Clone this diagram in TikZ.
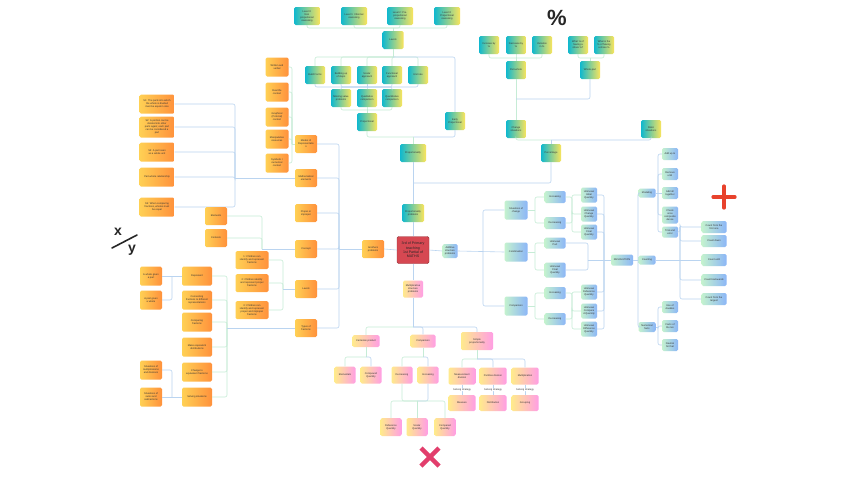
\documentclass[tikz,border=0pt]{standalone}
\usepackage{fontspec}
\setmainfont{Liberation Sans}
\definecolor{oL}{RGB}{255,208,84}
\definecolor{oR}{RGB}{255,145,60}
\definecolor{tL}{RGB}{16,184,206}
\definecolor{tR}{RGB}{250,228,92}
\definecolor{gL}{RGB}{196,242,206}
\definecolor{gR}{RGB}{140,182,247}
\definecolor{pL}{RGB}{255,234,140}
\definecolor{pR}{RGB}{255,158,228}
\definecolor{conc}{RGB}{186,212,240}
\definecolor{cong}{RGB}{198,236,214}
\definecolor{redbox}{RGB}{214,72,82}
\definecolor{xpink}{RGB}{226,62,108}
\definecolor{plusred}{RGB}{232,66,44}
\tikzset{
  bx/.style={rounded corners=1.5pt, align=center, inner sep=0.4pt, font=\fontsize{2.5}{3}\selectfont, text=black!80},
  ob/.style={bx, left color=oL, right color=oR, minimum width=22pt, minimum height=18pt},
  tb/.style={bx, left color=tL, right color=tR, minimum width=20pt, minimum height=18pt},
  gb/.style={bx, left color=gL, right color=gR, minimum width=21pt, minimum height=12pt},
  pb/.style={bx, left color=pL, right color=pR, minimum width=21pt, minimum height=17pt},
  con/.style={draw=conc, line width=0.6pt, rounded corners=2pt},
  cong/.style={draw=cong, line width=0.6pt, rounded corners=2pt},
}
\begin{document}
\begin{tikzpicture}[x=1pt,y=-1pt]
\useasboundingbox[fill=white] (0,0) rectangle (848,477);

% ---------- top: levels ----------
\node[tb, minimum width=26pt] (L0) at (307,16) {Level 0:\\Non\\proportional\\reasoning};
\node[tb, minimum width=26pt] (L1) at (354,16) {Level 1: Informal\\reasoning};
\node[tb, minimum width=26pt] (L2) at (400,16) {Level 2: Pre-\\proportional\\reasoning};
\node[tb, minimum width=26pt] (L3) at (447,16) {Level 3:\\Proportional\\reasoning};
\node[tb, minimum width=21pt] (LEV) at (393,40) {Levels};
\coordinate (jlev) at (393,28);
\foreach \n in {L0,L1,L2,L3} \draw[cong] (\n.south) |- (jlev);
\draw[cong] (jlev) -- (LEV.north);

\node[tb] (BF) at (315,75) {Build Forms};
\node[tb] (BS) at (341,75) {Building up\\of steps};
\node[tb] (SA) at (367,75) {Scalar\\approach};
\node[tb] (FA) at (392,75) {Functional\\approach};
\node[tb] (UR) at (418,75) {Unit rate};
\node[tb] (MV) at (341,98) {Missing value\\problems};
\node[tb] (QL) at (367,98) {Qualitative\\comparison};
\node[tb] (QN) at (392,98) {Quantitative\\comparison};
\node[tb] (PRO) at (367,122) {Proportional};
\node[tb] (EP) at (455,121) {Early\\Proportional};
\node[tb, minimum width=26pt] (PTY) at (413,153) {Proportionality};
\node[tb, minimum width=22pt] (PP) at (413,213) {Proportionality\\problems};

\coordinate (jr1) at (393,57);
\draw[cong] (LEV.south) -- (jr1);
\foreach \n in {BF,BS,SA,FA,UR} \draw[cong] (jr1) -| (\n.north);
\draw[con] (jr1) -| (EP.north);
\coordinate (jr2) at (367,87);
\foreach \n in {BF,BS,SA,FA,UR} \draw[con] (\n.south) |- (jr2);
\foreach \n in {MV,QL,QN} \draw[con] (jr2) -| (\n.north);
\coordinate (jp) at (367,110);
\foreach \n in {MV,QL,QN} \draw[cong] (\n.south) |- (jp);
\draw[cong] (jp) -- (PRO.north);
\coordinate (jpp) at (413,137);
\draw[cong] (PRO.south) |- (jpp);
\draw[con] (EP.south) |- (jpp);
\draw[cong] (jpp) -- (PTY.north);
\coordinate (jpc) at (413,183);
\draw[con] (PTY.south) -- (PP.north);

% ---------- percentage ----------
\node[font=\bfseries\fontsize{22}{22}\selectfont, text=black!85] (PCTS) at (557,18) {\%};
\node[tb] (I1) at (489,45) {Increase by\\\%};
\node[tb] (I2) at (516,45) {Decrease by\\\%};
\node[tb] (I3) at (542,45) {Variation\\in \%};
\node[tb] (W1) at (578,45) {What \% of\\having a\\share \%?};
\node[tb] (W2) at (604,45) {What is the\\\% of having\\a share \%};
\node[tb] (PW) at (516,70) {Part-whole};
\node[tb] (WP) at (590,70) {Whole-part};
\node[tb] (CS) at (516,129) {Change\\situations};
\node[tb] (SS) at (651,129) {Static\\situations};
\node[tb] (PCT) at (551,153) {Percentage};
\coordinate (jpt) at (516,58);
\foreach \n in {I1,I2,I3} \draw[cong] (\n.south) |- (jpt);
\draw[cong] (jpt) -- (PW.north);
\coordinate (jwt) at (590,58);
\foreach \n in {W1,W2} \draw[cong] (\n.south) |- (jwt);
\draw[cong] (jwt) -- (WP.north);
\coordinate (jpw) at (516,99);
\draw[cong] (PW.south) -- (CS.north);
\draw[con] (jpw) -| (WP.south);
\coordinate (jcs) at (551,140);
\draw[cong] (CS.south) |- (jcs);
\draw[con] (jcs) -| (SS.south);
\draw[con] (jcs) -- (PCT.north);
\draw[con] (jpc) -| (PCT.south);

% ---------- center ----------
\node[bx, fill=redbox, draw=redbox!70!black, line width=0.4pt, minimum width=32pt, minimum height=27pt, font=\fontsize{3.6}{4.3}\selectfont, text=black!85] (RED) at (413,250) {3rd of Primary\\teaching\\1st Partial of\\MATHS};
\draw[con] (PP.south) -- (RED.north);
\node[ob] (AP) at (373,249) {Anothers\\problems};
\draw[con] (AP.east) -- (RED.west);
\node[gb, minimum width=15pt, minimum height=14pt] (ASP) at (450,251) {Additive\\structure\\problems};
\draw[con] (RED.east) -- (ASP.west);
\node[pb, minimum width=20pt] (MSP) at (413,289) {Multiplicative\\structure\\problems};
\draw[con] (RED.south) -- (MSP.north);

% ---------- left ----------
\node[ob] (MR) at (306,144) {Modes of\\Representatio\\n};
\node[ob] (ME) at (306,178) {Mathematical\\elements};
\node[ob] (PI) at (306,213) {Proper or\\improper};
\node[ob] (CO) at (306,249) {Concept};
\node[ob] (LV) at (306,289) {Levels};
\node[ob] (TF) at (306,328) {Types of\\fractions};
\coordinate (jb) at (339,249);
\foreach \n in {MR,ME,PI,CO,LV,TF} \draw[con] (\n.east) -| (jb);
\draw[con] (jb) -- (AP.west);

\node[ob, minimum width=23pt, minimum height=19pt] (WV) at (277,67) {Written and\\verbal};
\node[ob, minimum width=23pt, minimum height=19pt] (RL) at (277,92) {Real life\\context};
\node[ob, minimum width=23pt, minimum height=19pt] (GP) at (277,117) {Graphical\\(Pictorial)\\context};
\node[ob, minimum width=23pt, minimum height=19pt] (MRS) at (277,139) {Manipulative\\resources};
\node[ob, minimum width=23pt, minimum height=19pt] (SN) at (277,163) {Symbolic /\\numerical\\context};
\coordinate (jm) at (292,144);
\foreach \n in {WV,RL,GP,MRS,SN} \draw[cong] (\n.east) -| (jm);
\draw[cong] (jm) -- (MR.west);

\node[ob, minimum width=35pt, minimum height=19pt] (S1) at (157,104) {S1: The parts into which\\the whole is divided\\must be equal in size};
\node[ob, minimum width=35pt, minimum height=21pt] (S2) at (157,127) {S2: A portion can be\\divided into other\\parts again; each part\\can be considered a\\part};
\node[ob, minimum width=35pt, minimum height=19pt] (S3) at (157,152) {S3: A part seen\\as a whole unit};
\node[ob, minimum width=35pt, minimum height=19pt] (S4) at (157,177) {Part-whole relationship};
\node[ob, minimum width=35pt, minimum height=19pt] (S5) at (157,207) {S5: When comparing\\fractions, wholes must\\be equal};
\coordinate (je) at (235,178);
\foreach \n in {S1,S2,S3,S4,S5} \draw[con] (\n.east) -| (je);
\draw[con] (je) -- (ME.west);

\node[ob] (EL) at (216,216) {Elements};
\node[ob] (CT) at (216,238) {Contexts};
\coordinate (jc) at (262,249);
\foreach \n in {EL,CT} \draw[cong] (\n.east) -| (jc);
\draw[con] (jc) -- (CO.west);

\node[ob, minimum width=33pt] (C1) at (252,260) {1: Children can\\identify and represent\\fractions};
\node[ob, minimum width=33pt] (C2) at (252,283) {2: Children identify\\and represent proper\\fractions};
\node[ob, minimum width=33pt] (C3) at (252,310) {3: Children can\\identify and represent\\proper and improper\\fractions};
\coordinate (jl) at (283,289);
\foreach \n in {C1,C2,C3} \draw[cong] (\n.east) -| (jl);
\draw[con] (jl) -- (LV.west);

\node[ob, minimum width=30pt, minimum height=19pt] (RP) at (197,276) {Represent};
\node[ob, minimum width=30pt, minimum height=19pt] (CF) at (197,300) {Connecting\\fractions to different\\representations};
\node[ob, minimum width=30pt, minimum height=19pt] (CM) at (197,322) {Comparing\\fractions};
\node[ob, minimum width=30pt, minimum height=19pt] (MED) at (197,347) {Make equivalent\\distributions};
\node[ob, minimum width=30pt, minimum height=19pt] (CEF) at (197,372) {Change to\\equivalent fractions};
\node[ob, minimum width=30pt, minimum height=19pt] (SSI) at (197,397) {Solving situations};
\coordinate (jt) at (227,328);
\foreach \n in {RP,CF,CM,MED,CEF,SSI} \draw[cong] (\n.east) -| (jt);
\draw[con] (jt) -- (TF.west);

\node[ob, minimum height=19pt] (AW) at (151,276) {A whole given\\a part};
\node[ob, minimum height=19pt] (APW) at (151,300) {A part given\\a whole};
\coordinate (jr) at (172,276);
\draw[con] (AW.east) -- (RP.west);
\draw[con] (APW.east) -| (jr);
\node[ob, minimum height=19pt] (SMD) at (151,370) {Situations of\\multiplications\\and divisions};
\node[ob, minimum height=19pt] (SSS) at (151,397) {Situations of\\sums and\\subtractions};
\coordinate (js) at (172,397);
\draw[con] (SSS.east) -- (SSI.west);
\draw[con] (SMD.east) -| (js);

% x/y symbol
\node[font=\bfseries\fontsize{14}{14}\selectfont, text=black!85] (XS) at (118,232) {x};
\node[font=\bfseries\fontsize{14}{14}\selectfont, text=black!85] (YS) at (132,250) {y};
\draw[black!85, line width=1.6pt, line cap=round] (112,248) -- (137,235);

% ---------- additive structure ----------
\node[gb, minimum width=23pt, minimum height=19pt] (SC) at (516,210) {Situations of\\change};
\node[gb, minimum width=23pt, minimum height=19pt] (CB) at (516,252) {Combination};
\node[gb, minimum width=23pt, minimum height=19pt] (CP) at (516,306) {Comparison};
\coordinate (ja) at (483,251);
\draw[con] (ASP.east) -- (CB.west);
\draw[con] (SC.west) -| (ja);
\draw[con] (CP.west) -| (ja);

\node[gb] (IN1) at (555,197) {Increasing};
\node[gb] (DE1) at (555,223) {Decreasing};
\node[gb, minimum height=11pt] (UP) at (555,243) {Unknown\\Part};
\node[gb, minimum height=15pt] (UF1) at (555,270) {Unknown\\Final\\Quantity};
\node[gb] (IN2) at (555,293) {Increasing};
\node[gb] (DE2) at (555,319) {Decreasing};
\coordinate (jsc) at (535,210);
\draw[cong] (SC.east) -- (jsc);
\draw[cong] (IN1.west) -| (jsc);
\draw[cong] (DE1.west) -| (jsc);
\coordinate (jcb) at (535,252);
\draw[cong] (CB.east) -- (jcb);
\draw[cong] (UP.west) -| (jcb);
\draw[cong] (UF1.west) -| (jcb);
\coordinate (jcp) at (535,306);
\draw[cong] (CP.east) -- (jcp);
\draw[cong] (IN2.west) -| (jcp);
\draw[cong] (DE2.west) -| (jcp);

\node[gb, minimum width=16pt, minimum height=15pt] (UIQ) at (589,195) {Unknown\\Initial\\Quantity};
\node[gb, minimum width=16pt, minimum height=15pt] (UCQ) at (589,214) {Unknown\\Change\\Quantity};
\node[gb, minimum width=16pt, minimum height=15pt] (UFQ) at (589,232) {Unknown\\Final\\Quantity};
\node[gb, minimum width=16pt, minimum height=15pt] (URQ) at (589,292) {Unknown\\Reference\\Quantity};
\node[gb, minimum width=16pt, minimum height=15pt] (UOQ) at (589,311) {Unknown\\Compare\\d Quantity};
\node[gb, minimum width=16pt, minimum height=15pt] (UDQ) at (589,329) {Unknown\\Difference\\Quantity};
\coordinate (jid) at (572,214);
\draw[cong] (IN1.east) -| (jid);
\draw[cong] (DE1.east) -| (jid);
\foreach \n in {UIQ,UCQ,UFQ} \draw[cong] (\n.west) -| (jid);
\coordinate (jid2) at (572,311);
\draw[cong] (IN2.east) -| (jid2);
\draw[cong] (DE2.east) -| (jid2);
\foreach \n in {URQ,UOQ,UDQ} \draw[cong] (\n.west) -| (jid2);

\node[gb, minimum width=22pt, minimum height=11pt] (RES) at (622,260) {RESOLUTION};
\coordinate (ju) at (604,260);
\foreach \n in {UIQ,UCQ,UFQ,URQ,UOQ,UDQ} \draw[con] (\n.east) -| (ju);
\coordinate (jcu) at (588,260);
\draw[con] (UP.east) -| (jcu);
\draw[con] (UF1.east) -| (jcu);
\draw[con] (jcu) -- (RES.west);

% ---------- resolution ----------
\node[gb, minimum width=17pt, minimum height=9pt] (MOD) at (647,193) {Modeling};
\node[gb, minimum width=17pt, minimum height=9pt] (COU) at (647,260) {Counting};
\node[gb, minimum width=17pt, minimum height=10pt] (NF) at (647,327) {Numerical\\facts};
\coordinate (jre) at (638,260);
\draw[con] (RES.east) -- (COU.west);
\draw[con] (MOD.west) -| (jre);
\draw[con] (NF.west) -| (jre);

\node[gb, minimum width=16pt] (AU) at (670,154) {Add up to};
\node[gb, minimum width=16pt] (RU) at (670,174) {Remove\\until};
\node[gb, minimum width=16pt] (AT) at (670,193) {Add all\\together};
\node[gb, minimum width=16pt, minimum height=17pt] (CHK) at (670,215) {Check\\once\\composite\\dense};
\node[gb, minimum width=16pt, minimum height=11pt] (TE) at (670,232) {Trial and\\error};
\coordinate (jmo) at (658,193);
\draw[con] (MOD.east) -- (AT.west);
\foreach \n in {AU,RU,CHK,TE} \draw[con] (\n.west) -| (jmo);

\node[gb, minimum width=25pt] (CF1) at (714,227) {Count from the\\first one};
\node[gb, minimum width=25pt] (CD) at (714,241) {Count down};
\node[gb, minimum width=25pt] (CU) at (714,260) {Count until};
\node[gb, minimum width=25pt] (CBW) at (714,280) {Count backwards};
\node[gb, minimum width=25pt] (CL) at (714,299) {Count from the\\largest};
\coordinate (jtop) at (680,227);
\draw[con] (TE.east) -| (jtop);
\foreach \n in {CF1,CD,CBW,CL} \draw[con] (\n.west) -| (jtop);
\draw[con] (COU.east) -- (CU.west);

\node[gb, minimum width=16pt] (UD) at (670,307) {Use of\\doubles};
\node[gb, minimum width=16pt] (FT) at (670,326) {Facts of\\the ten};
\node[gb, minimum width=16pt] (NT) at (670,345) {Neutral\\for that};
\coordinate (jnf) at (658,327);
\draw[con] (NF.east) -- (jnf);
\foreach \n in {UD,FT,NT} \draw[con] (\n.west) -| (jnf);

% plus
\draw[plusred, line width=3.2pt, line cap=round] (713,197) -- (735,197);
\draw[plusred, line width=3.2pt, line cap=round] (724,186) -- (724,208);

% ---------- multiplicative structure ----------
\node[pb, minimum width=27pt, minimum height=12pt] (CPR) at (366,341) {Cartesian product};
\node[pb, minimum width=25pt, minimum height=13pt] (CMP) at (423,341) {Comparison};
\node[pb, minimum width=32pt, minimum height=18pt] (SP) at (477,341) {Simple\\proportionality};
\coordinate (jms) at (413,327);
\draw[con] (MSP.south) -- (jms);
\draw[cong] (jms) -| (CPR.north);
\draw[con] (jms) -| (CMP.north);
\draw[con] (jms) -| (SP.north);

\node[pb] (ELM) at (345,375) {Elementals};
\node[pb] (CQ) at (371,375) {Compound\\Quantity};
\coordinate (jcpr) at (366,357);
\draw[cong] (CPR.south) -- (jcpr);
\draw[cong] (jcpr) -| (ELM.north);
\draw[con] (jcpr) -| (CQ.north);

\node[pb] (DCR) at (402,375) {Decreasing};
\node[pb] (ICR) at (428,375) {Increasing};
\coordinate (jcm) at (423,357);
\draw[cong] (CMP.south) -- (jcm);
\draw[cong] (jcm) -| (DCR.north);
\draw[con] (jcm) -| (ICR.north);

\node[pb, minimum height=18pt] (RQ) at (391,427) {Reference\\Quantity};
\node[pb, minimum height=18pt] (SQ) at (417,427) {Scalar\\Quantity};
\node[pb, minimum height=18pt] (CQ2) at (445,427) {Compared\\Quantity};
\coordinate (jq) at (417,401);
\draw[cong] (DCR.south) |- (jq);
\draw[con] (ICR.south) |- (jq);
\draw[cong] (jq) -| (RQ.north);
\draw[cong] (jq) -- (SQ.north);
\draw[cong] (jq) -| (CQ2.north);

\node[pb, minimum width=27pt] (MD) at (462,376) {Measurement\\division};
\node[pb, minimum width=27pt] (PD) at (493,376) {Partitive division};
\node[pb, minimum width=27pt] (MU) at (525,376) {Multiplication};
\coordinate (jsp) at (477,359);
\draw[cong] (SP.south) -- (jsp);
\draw[cong] (jsp) -| (MD.north);
\draw[con] (jsp) -| (PD.north);
\draw[con] (jsp) -| (MU.north);
\node[pb, minimum width=27pt, minimum height=16pt] (MEA) at (462,403) {Measure};
\node[pb, minimum width=27pt, minimum height=16pt] (DIS) at (493,403) {Distribution};
\node[pb, minimum width=27pt, minimum height=16pt] (GRO) at (525,403) {Grouping};
\foreach \a/\b in {MD/MEA,PD/DIS,MU/GRO}
  \draw[con] (\a.south) -- node[fill=white, inner sep=0.3pt, font=\fontsize{2.5}{3}\selectfont, text=black!80] {Solving strategy} (\b.north);

% cross
\draw[xpink, line width=4.5pt] (421,448) -- (439,466);
\draw[xpink, line width=4.5pt] (439,448) -- (421,466);
\end{tikzpicture}
\end{document}
